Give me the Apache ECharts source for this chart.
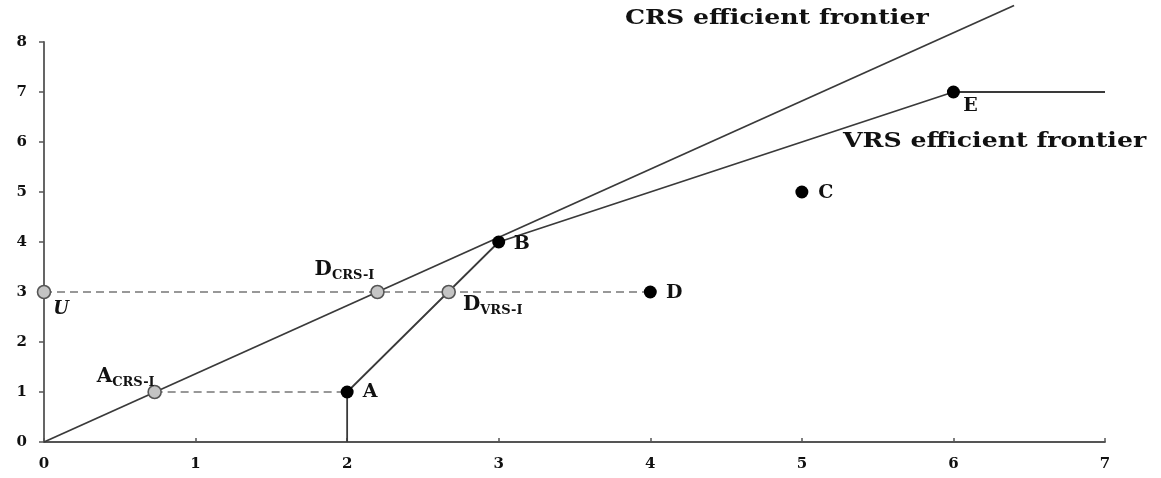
<!DOCTYPE html>
<html><head><meta charset="utf-8">
<script src="https://cdn.jsdelivr.net/npm/echarts@6/dist/echarts.min.js"></script>
<style>html,body{margin:0;padding:0;background:#fff}#c{width:1161px;height:478px}</style>
</head><body><div id="c"></div>
<script>
// ---- data ----
const xTicks = [0,1,2,3,4,5,6,7];
const yTicks = [0,1,2,3,4,5,6,7,8];
const crsFrontier = [[0,0],[6.4,8.73]];
const vrsFrontier = [[2,0],[2,1],[3,4],[6,7],[7,7]];
const projD = [[0,3],[4,3]];
const projA = [[0.73,1],[2,1]];
const dmuNames = ['A','B','C','D','E'];
const dmuX = [2,3,5,4,6];
const dmuY = [1,4,5,3,7];
const projNames = ['U','ACRS','DCRS','DVRS'];
const projX = [0,0.73,2.2,2.67];
const projY = [3,1,3,3];

const FONT = 'DejaVu Serif';
const labelOffsets = {A:[23,0],B:[23,2],C:[24,1],D:[24,1],E:[17,14],U:[17,17],ACRS:[-29,-14],DCRS:[-33,-21],DVRS:[44,14]};
const labelText = {A:'A',B:'B',C:'C',D:'D',E:'E',U:'{u|U}',ACRS:'{m|A}{s|CRS-I}',DCRS:'{m|D}{s|CRS-I}',DVRS:'{m|D}{s|VRS-I}'};
const rich = {
  m:{fontFamily:FONT,fontWeight:'bold',fontSize:20,lineHeight:22,verticalAlign:'top',color:'#111'},
  s:{fontFamily:FONT,fontWeight:'bold',fontSize:13,lineHeight:13,padding:[9,0,0,0],verticalAlign:'top',color:'#111'},
  u:{fontFamily:FONT,fontWeight:'bold',fontStyle:'italic',fontSize:18,color:'#111'}
};
function lbl(n){
  return {show:true,position:'inside',offset:labelOffsets[n],formatter:labelText[n],
    fontFamily:FONT,fontWeight:'bold',fontSize:19,color:'#111',rich:rich};
}

const chart = echarts.init(document.getElementById('c'));
const lineStyle = {color:'#3a3a3a',width:1.8};
chart.setOption({
  animation:false,
  grid:{left:44,right:56,top:42,bottom:36},
  xAxis:{type:'value',min:xTicks[0],max:xTicks[xTicks.length-1],interval:1,
    axisLine:{show:true,lineStyle:{color:'#555',width:1.8}},
    axisTick:{show:true,inside:true,length:4,lineStyle:{color:'#555',width:1.5}},
    splitLine:{show:false},
    axisLabel:{fontFamily:FONT,fontWeight:'bold',fontSize:15,color:'#111',margin:15}},
  yAxis:{type:'value',min:yTicks[0],max:yTicks[yTicks.length-1],interval:1,
    axisLine:{show:true,lineStyle:{color:'#555',width:1.8}},
    axisTick:{show:true,length:5,lineStyle:{color:'#555',width:1.5}},
    splitLine:{show:false},
    axisLabel:{fontFamily:FONT,fontWeight:'bold',fontSize:15,color:'#111',margin:17}},
  graphic:[
    {type:'text',x:625,y:8,scaleX:1.2,style:{text:'CRS efficient frontier',font:'bold 21px "DejaVu Serif"',fill:'#111'}},
    {type:'text',x:843,y:131,scaleX:1.2,style:{text:'VRS efficient frontier',font:'bold 21px "DejaVu Serif"',fill:'#111'}}
  ],
  series:[
    {type:'line',data:crsFrontier,symbol:'none',clip:false,lineStyle:lineStyle,z:2},
    {type:'line',data:vrsFrontier,symbol:'none',lineStyle:lineStyle,z:2},
    {type:'line',data:projD,symbol:'none',lineStyle:{color:'#777',width:1.6,type:[8,5]},z:1},
    {type:'line',data:projA,symbol:'none',lineStyle:{color:'#777',width:1.6,type:[8,5]},z:1},
    {type:'scatter',symbolSize:13,clip:false,itemStyle:{color:'#000',opacity:1},z:5,
      data:dmuNames.map((n,i)=>({value:[dmuX[i],dmuY[i]],label:lbl(n)}))},
    {type:'scatter',symbolSize:13,clip:false,itemStyle:{color:'#c4c4c4',borderColor:'#555',borderWidth:1.6,opacity:1},z:5,
      data:projNames.map((n,i)=>({value:[projX[i],projY[i]],label:lbl(n)}))}
  ]
});
</script></body></html>
